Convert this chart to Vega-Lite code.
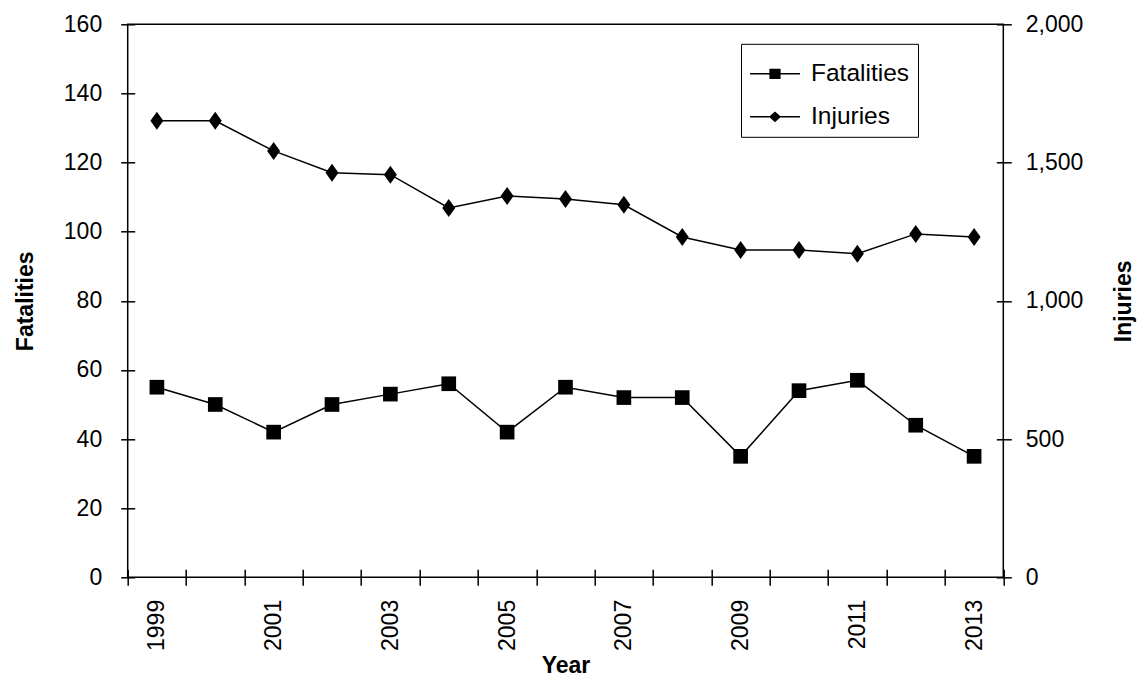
{
  "$schema": "https://vega.github.io/schema/vega-lite/v6.json",
  "width": 875.6,
  "height": 553,
  "autosize": {"type": "none"},
  "padding": {"left": 127.7, "top": 24.3, "right": 139.7, "bottom": 103.7},
  "background": "white",
  "config": {
    "font": "Liberation Sans",
    "view": {"stroke": "black", "strokeWidth": 1.5},
    "axis": {
      "domain": false,
      "grid": false,
      "tickColor": "black",
      "tickWidth": 1.5,
      "labelColor": "black",
      "labelFontSize": 23,
      "labelFont": "Liberation Sans",
      "titleColor": "black",
      "titleFontSize": 23,
      "titleFontWeight": "bold",
      "titleFont": "Liberation Sans"
    }
  },
  "data": {
    "values": [
      {"year": 1999, "series": "Fatalities", "value": 55},
      {"year": 2000, "series": "Fatalities", "value": 50},
      {"year": 2001, "series": "Fatalities", "value": 42},
      {"year": 2002, "series": "Fatalities", "value": 50},
      {"year": 2003, "series": "Fatalities", "value": 53},
      {"year": 2004, "series": "Fatalities", "value": 56},
      {"year": 2005, "series": "Fatalities", "value": 42},
      {"year": 2006, "series": "Fatalities", "value": 55},
      {"year": 2007, "series": "Fatalities", "value": 52},
      {"year": 2008, "series": "Fatalities", "value": 52},
      {"year": 2009, "series": "Fatalities", "value": 35},
      {"year": 2010, "series": "Fatalities", "value": 54},
      {"year": 2011, "series": "Fatalities", "value": 57},
      {"year": 2012, "series": "Fatalities", "value": 44},
      {"year": 2013, "series": "Fatalities", "value": 35},
      {"year": 1999, "series": "Injuries", "value": 1651},
      {"year": 2000, "series": "Injuries", "value": 1651},
      {"year": 2001, "series": "Injuries", "value": 1542},
      {"year": 2002, "series": "Injuries", "value": 1463},
      {"year": 2003, "series": "Injuries", "value": 1456},
      {"year": 2004, "series": "Injuries", "value": 1336},
      {"year": 2005, "series": "Injuries", "value": 1379},
      {"year": 2006, "series": "Injuries", "value": 1368},
      {"year": 2007, "series": "Injuries", "value": 1347},
      {"year": 2008, "series": "Injuries", "value": 1231},
      {"year": 2009, "series": "Injuries", "value": 1184},
      {"year": 2010, "series": "Injuries", "value": 1184},
      {"year": 2011, "series": "Injuries", "value": 1170},
      {"year": 2012, "series": "Injuries", "value": 1242},
      {"year": 2013, "series": "Injuries", "value": 1231}
    ]
  },
  "encoding": {
    "x": {
      "field": "year",
      "type": "ordinal",
      "bandPosition": 0.5,
      "scale": {"type": "band", "paddingInner": 0, "paddingOuter": 0},
      "axis": {
        "orient": "bottom",
        "offset": -8,
        "tickSize": 16,
        "tickBand": "extent",
        "labelAngle": -90,
        "labelAlign": "right",
        "labelBaseline": "middle",
        "labelPadding": 14,
        "labelExpr": "datum.value % 2 == 1 ? datum.label : ''",
        "title": "Year",
        "titlePadding": 4
      }
    }
  },
  "layer": [
    {
      "transform": [{"filter": "datum.series === 'Fatalities'"}],
      "encoding": {
        "y": {
          "field": "value",
          "type": "quantitative",
          "scale": {"domain": [0, 160], "nice": false, "zero": true},
          "axis": {
            "orient": "left",
            "offset": -7,
            "tickSize": 14,
            "values": [0, 20, 40, 60, 80, 100, 120, 140, 160],
            "labelPadding": 19,
            "title": "Fatalities",
            "titlePadding": 26
          }
        }
      },
      "layer": [
        {"mark": {"type": "line", "color": "black", "strokeWidth": 1.5}},
        {"mark": {"type": "point", "shape": "square", "filled": true, "color": "black", "size": 215, "opacity": 1}},
        {
          "mark": {"type": "point", "filled": true, "color": "black", "opacity": 0},
          "encoding": {
            "shape": {
              "field": "series",
              "type": "nominal",
              "scale": {
                "domain": ["Fatalities", "Injuries"],
                "range": [
                  "M-1.16,-0.035L1.16,-0.035L1.16,0.035L-1.16,0.035ZM-0.26,-0.24L0.26,-0.24L0.26,0.24L-0.26,0.24Z",
                  "M-1.16,-0.035L1.16,-0.035L1.16,0.035L-1.16,0.035ZM0,-0.25L0.28,0L0,0.25L-0.28,0Z"
                ]
              },
              "legend": {
                "orient": "none",
                "legendX": 613.3,
                "legendY": 19.5,
                "title": null,
                "padding": 8,
                "symbolSize": 1849,
                "rowPadding": 9,
                "symbolOffset": 4,
                "labelFontSize": 24.5,
                "labelColor": "black",
                "labelFont": "Liberation Sans",
                "labelOffset": 14,
                "strokeColor": "black",
                "fillColor": "white",
                "symbolFillColor": "black",
                "symbolStrokeColor": "black",
                "symbolStrokeWidth": 0.5,
                "symbolOpacity": 1,
                "encode": {
                  "legend": {"update": {"strokeWidth": {"value": 1.5}}},
                  "symbols": {
                    "update": {
                      "opacity": {"value": 1},
                      "fill": {"value": "black"},
                      "stroke": {"value": "black"},
                      "strokeWidth": {"value": 0.5},
                      "fillOpacity": {"value": 1},
                      "strokeOpacity": {"value": 1}
                    }
                  }
                }
              }
            }
          }
        }
      ]
    },
    {
      "transform": [{"filter": "datum.series === 'Injuries'"}],
      "encoding": {
        "y": {
          "field": "value",
          "type": "quantitative",
          "scale": {"domain": [0, 2000], "nice": false, "zero": true},
          "axis": {
            "orient": "right",
            "offset": -7,
            "tickSize": 15,
            "values": [0, 500, 1000, 1500, 2000],
            "format": ",d",
            "labelPadding": 14,
            "title": "Injuries",
            "titleAngle": -90,
            "titleBaseline": "top",
            "titlePadding": 30
          }
        }
      },
      "layer": [
        {"mark": {"type": "line", "color": "black", "strokeWidth": 1.5}},
        {"mark": {"type": "point", "shape": "M0,-1L0.72,0L0,1L-0.72,0Z", "filled": true, "color": "black", "size": 324, "opacity": 1}}
      ]
    }
  ],
  "resolve": {"scale": {"y": "independent"}}
}
